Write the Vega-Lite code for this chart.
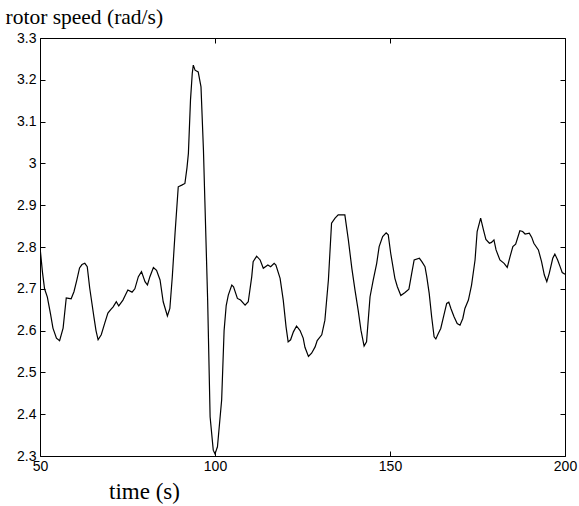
{
  "$schema": "https://vega.github.io/schema/vega-lite/v6.json",
  "autosize": {"type": "none"},
  "width": 525,
  "height": 418,
  "padding": {"left": 40, "top": 38, "right": 14, "bottom": 50},
  "background": "white",
  "config": {
    "view": {"stroke": "black", "strokeWidth": 1},
    "axis": {
      "domain": false, "ticks": true, "tickColor": "black", "tickWidth": 1, "labelColor": "black", "titleColor": "black",
      "labelFont": "Liberation Sans", "labelFontSize": 14, "titleFont": "Liberation Serif", "labelFlush": false,
      "titleFontSize": 21.5, "titleFontWeight": "normal", "grid": false, "tickSize": 5, "offset": -5
    }
  },
  "data": {"values": [
    {"t": 50.0, "v": 2.80}, {"t": 50.7, "v": 2.74}, {"t": 51.3, "v": 2.70}, {"t": 52.1, "v": 2.68},
    {"t": 53.0, "v": 2.64}, {"t": 53.7, "v": 2.606}, {"t": 54.7, "v": 2.582}, {"t": 55.6, "v": 2.576},
    {"t": 56.6, "v": 2.606}, {"t": 57.5, "v": 2.678}, {"t": 58.2, "v": 2.677}, {"t": 58.9, "v": 2.676},
    {"t": 59.7, "v": 2.693}, {"t": 60.5, "v": 2.72}, {"t": 61.3, "v": 2.75}, {"t": 62.0, "v": 2.758},
    {"t": 62.8, "v": 2.761}, {"t": 63.5, "v": 2.753}, {"t": 64.2, "v": 2.702}, {"t": 65.4, "v": 2.633},
    {"t": 66.0, "v": 2.60}, {"t": 66.6, "v": 2.578}, {"t": 67.5, "v": 2.59}, {"t": 68.5, "v": 2.618},
    {"t": 69.4, "v": 2.642}, {"t": 70.2, "v": 2.65}, {"t": 70.9, "v": 2.657}, {"t": 71.8, "v": 2.669},
    {"t": 72.5, "v": 2.659}, {"t": 73.7, "v": 2.673}, {"t": 74.4, "v": 2.685}, {"t": 75.1, "v": 2.697},
    {"t": 76.3, "v": 2.692}, {"t": 77.1, "v": 2.70}, {"t": 78.1, "v": 2.729}, {"t": 79.0, "v": 2.741},
    {"t": 80.0, "v": 2.717}, {"t": 80.7, "v": 2.709}, {"t": 81.4, "v": 2.729}, {"t": 82.4, "v": 2.751},
    {"t": 83.3, "v": 2.744}, {"t": 84.3, "v": 2.721}, {"t": 85.2, "v": 2.669}, {"t": 86.4, "v": 2.635},
    {"t": 87.1, "v": 2.653}, {"t": 87.8, "v": 2.729}, {"t": 88.6, "v": 2.835}, {"t": 89.5, "v": 2.944},
    {"t": 90.5, "v": 2.948}, {"t": 91.4, "v": 2.952}, {"t": 92.0, "v": 2.99}, {"t": 92.4, "v": 3.024},
    {"t": 93.0, "v": 3.152}, {"t": 93.5, "v": 3.215}, {"t": 93.8, "v": 3.235}, {"t": 94.3, "v": 3.223},
    {"t": 95.2, "v": 3.219}, {"t": 96.0, "v": 3.183}, {"t": 96.7, "v": 3.032}, {"t": 97.1, "v": 2.912},
    {"t": 97.9, "v": 2.673}, {"t": 98.6, "v": 2.394}, {"t": 99.5, "v": 2.314}, {"t": 100.0, "v": 2.305},
    {"t": 100.7, "v": 2.322}, {"t": 101.9, "v": 2.434}, {"t": 102.6, "v": 2.60}, {"t": 103.2, "v": 2.66},
    {"t": 103.8, "v": 2.685}, {"t": 104.8, "v": 2.709}, {"t": 105.3, "v": 2.705}, {"t": 106.4, "v": 2.677},
    {"t": 107.3, "v": 2.673}, {"t": 108.6, "v": 2.661}, {"t": 109.5, "v": 2.669}, {"t": 110.5, "v": 2.729},
    {"t": 110.9, "v": 2.765}, {"t": 111.9, "v": 2.778}, {"t": 112.9, "v": 2.769}, {"t": 113.8, "v": 2.749},
    {"t": 115.1, "v": 2.757}, {"t": 115.9, "v": 2.753}, {"t": 116.9, "v": 2.761}, {"t": 117.4, "v": 2.757},
    {"t": 118.6, "v": 2.725}, {"t": 119.5, "v": 2.673}, {"t": 120.3, "v": 2.609}, {"t": 120.9, "v": 2.573},
    {"t": 121.6, "v": 2.578}, {"t": 122.4, "v": 2.597}, {"t": 123.3, "v": 2.611}, {"t": 124.3, "v": 2.60},
    {"t": 125.2, "v": 2.582}, {"t": 125.7, "v": 2.56}, {"t": 126.7, "v": 2.538}, {"t": 127.6, "v": 2.546},
    {"t": 128.6, "v": 2.561}, {"t": 129.2, "v": 2.576}, {"t": 130.5, "v": 2.59}, {"t": 131.4, "v": 2.625},
    {"t": 132.4, "v": 2.721}, {"t": 133.3, "v": 2.857}, {"t": 134.3, "v": 2.869}, {"t": 135.2, "v": 2.877},
    {"t": 137.1, "v": 2.877}, {"t": 138.1, "v": 2.817}, {"t": 139.1, "v": 2.749}, {"t": 140.0, "v": 2.697},
    {"t": 140.9, "v": 2.649}, {"t": 141.7, "v": 2.601}, {"t": 142.6, "v": 2.563}, {"t": 143.3, "v": 2.573},
    {"t": 144.3, "v": 2.681}, {"t": 145.2, "v": 2.721}, {"t": 146.2, "v": 2.761}, {"t": 146.9, "v": 2.801},
    {"t": 147.9, "v": 2.825}, {"t": 148.9, "v": 2.834}, {"t": 149.5, "v": 2.829}, {"t": 150.2, "v": 2.785},
    {"t": 151.4, "v": 2.725}, {"t": 152.1, "v": 2.705}, {"t": 153.1, "v": 2.684}, {"t": 154.3, "v": 2.691},
    {"t": 155.4, "v": 2.699}, {"t": 156.2, "v": 2.737}, {"t": 156.9, "v": 2.769}, {"t": 158.4, "v": 2.773},
    {"t": 159.1, "v": 2.765}, {"t": 160.0, "v": 2.753}, {"t": 160.5, "v": 2.729}, {"t": 161.2, "v": 2.689},
    {"t": 161.9, "v": 2.633}, {"t": 162.6, "v": 2.585}, {"t": 163.1, "v": 2.58}, {"t": 163.8, "v": 2.593},
    {"t": 164.5, "v": 2.605}, {"t": 165.4, "v": 2.637}, {"t": 166.2, "v": 2.665}, {"t": 166.8, "v": 2.668},
    {"t": 167.4, "v": 2.653}, {"t": 168.3, "v": 2.633}, {"t": 169.2, "v": 2.617}, {"t": 170.0, "v": 2.613},
    {"t": 170.8, "v": 2.629}, {"t": 171.4, "v": 2.653}, {"t": 172.4, "v": 2.673}, {"t": 173.3, "v": 2.709},
    {"t": 174.3, "v": 2.769}, {"t": 174.9, "v": 2.837}, {"t": 175.9, "v": 2.869}, {"t": 176.7, "v": 2.841},
    {"t": 177.4, "v": 2.818}, {"t": 178.4, "v": 2.809}, {"t": 179.0, "v": 2.811}, {"t": 179.7, "v": 2.817},
    {"t": 180.3, "v": 2.793}, {"t": 181.4, "v": 2.769}, {"t": 182.6, "v": 2.761}, {"t": 183.5, "v": 2.751},
    {"t": 184.3, "v": 2.777}, {"t": 185.1, "v": 2.801}, {"t": 185.9, "v": 2.807}, {"t": 187.1, "v": 2.839},
    {"t": 187.9, "v": 2.837}, {"t": 188.6, "v": 2.831}, {"t": 189.8, "v": 2.833}, {"t": 190.5, "v": 2.823},
    {"t": 191.1, "v": 2.809}, {"t": 192.4, "v": 2.793}, {"t": 193.3, "v": 2.765}, {"t": 194.1, "v": 2.733},
    {"t": 194.8, "v": 2.717}, {"t": 195.5, "v": 2.737}, {"t": 196.5, "v": 2.773}, {"t": 197.1, "v": 2.783},
    {"t": 197.9, "v": 2.769}, {"t": 198.6, "v": 2.753}, {"t": 199.2, "v": 2.739}, {"t": 200.0, "v": 2.735}
  ]},
  "layer": [
    {
      "mark": {"type": "line", "color": "black", "strokeWidth": 1.2, "clip": true},
      "encoding": {
        "x": {"field": "t", "type": "quantitative", "scale": {"domain": [50, 200], "nice": false, "zero": false},
          "axis": {"orient": "bottom", "values": [50, 100, 150, 200], "labelPadding": 3,
            "title": "time (s)", "titleFontSize": 23, "titleX": 104, "titleY": 47, "titleAlign": "center", "titleBaseline": "alphabetic"}},
        "y": {"field": "v", "type": "quantitative", "scale": {"domain": [2.3, 3.3], "nice": false, "zero": false},
          "axis": {"orient": "left", "values": [2.3, 2.4, 2.5, 2.6, 2.7, 2.8, 2.9, 3.0, 3.1, 3.2, 3.3], "labelPadding": 4, "format": "~g",
            "title": "rotor speed (rad/s)", "titleAngle": 0, "titleX": -40, "titleY": -15, "titleAlign": "left", "titleBaseline": "alphabetic"}}
      }
    },
    {
      "mark": {"type": "line", "strokeOpacity": 0},
      "encoding": {
        "x": {"field": "t", "type": "quantitative",
          "axis": {"orient": "top", "values": [50, 100, 150, 200], "labels": false, "title": null}},
        "y": {"field": "v", "type": "quantitative",
          "axis": {"orient": "right", "values": [2.3, 2.4, 2.5, 2.6, 2.7, 2.8, 2.9, 3.0, 3.1, 3.2, 3.3], "labels": false, "title": null}}
      }
    }
  ],
  "resolve": {"axis": {"x": "independent", "y": "independent"}}
}
